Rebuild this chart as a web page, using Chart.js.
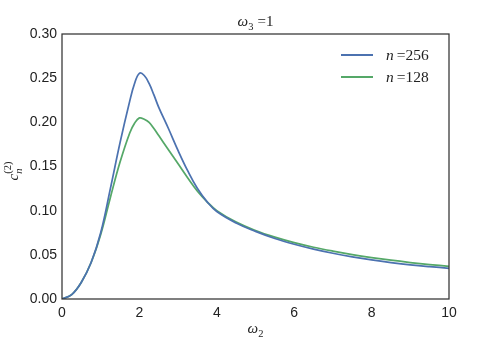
<!DOCTYPE html>
<html lang="en">
<head>
    <meta charset="UTF-8">
    <title>c_n^(2) vs omega_2</title>
    <script src="https://cdn.jsdelivr.net/npm/chart.js@4"></script>
    <style>
        html, body { margin: 0; padding: 0; background: #fff; }
        #wrap { width: 498px; height: 343px; }
    </style>
</head>
<body>
    <div id="wrap"><canvas id="cnChart" width="498" height="343"></canvas></div>

    <script>
        // omega_2 sample points
        const omega2 = [0, 0.25, 0.5, 0.75, 1, 1.25, 1.5, 1.75, 1.875, 2, 2.125, 2.25, 2.375, 2.5, 2.75, 3, 3.25, 3.5, 3.75, 4,
                        4.5, 5, 5.5, 6, 6.5, 7, 7.5, 8, 8.5, 9, 9.5, 10];
        const n256 = [0, 0.005, 0.019, 0.041, 0.075, 0.125, 0.177, 0.224, 0.244, 0.2555, 0.2530, 0.244, 0.231, 0.217, 0.193, 0.168, 0.145, 0.125, 0.110, 0.099,
                      0.0860, 0.0765, 0.0685, 0.0620, 0.0565, 0.0518, 0.0478, 0.0443, 0.0413, 0.0387, 0.0366, 0.0348];
        const n128 = [0, 0.005, 0.019, 0.041, 0.073, 0.115, 0.155, 0.188, 0.199, 0.205, 0.2035, 0.200, 0.193, 0.185, 0.169, 0.153, 0.137, 0.122, 0.110, 0.100,
                      0.0870, 0.0775, 0.0700, 0.0638, 0.0586, 0.0542, 0.0503, 0.0469, 0.0439, 0.0413, 0.0390, 0.0370];
        const xTicks = [0, 2, 4, 6, 8, 10];
        const yTicks = [0, 0.05, 0.10, 0.15, 0.20, 0.25, 0.30];

        const serif = '"Liberation Serif", "DejaVu Serif", serif';

        // draw a run of text pieces (italic / sub / sup) starting at x, baseline y
        function drawPieces(ctx, pieces, x, y, size) {
            pieces.forEach(p => {
                const s = p.small ? size * 0.7 : size;
                ctx.font = (p.italic ? 'italic ' : '') + s + 'px ' + serif;
                ctx.fillText(p.t, x, y + (p.dy || 0));
                x += ctx.measureText(p.t).width + (p.gap || 0);
            });
        }
        function piecesWidth(ctx, pieces, size) {
            let w = 0;
            pieces.forEach(p => {
                const s = p.small ? size * 0.7 : size;
                ctx.font = (p.italic ? 'italic ' : '') + s + 'px ' + serif;
                w += ctx.measureText(p.t).width + (p.gap || 0);
            });
            return w;
        }

        const decorPlugin = {
            id: 'decor',
            afterDraw(chart) {
                const ctx = chart.ctx;
                const a = chart.chartArea;
                ctx.save();
                // frame
                ctx.strokeStyle = '#333';
                ctx.lineWidth = 1.25;
                ctx.strokeRect(a.left, a.top, a.right - a.left, a.bottom - a.top);

                ctx.fillStyle = '#222';
                ctx.textBaseline = 'alphabetic';
                ctx.textAlign = 'left';
                const cx = (a.left + a.right) / 2;

                // title: omega_3 = 1
                const title = [{t: 'ω', italic: true}, {t: '3', small: true, dy: 4, gap: 4}, {t: '=1'}];
                drawPieces(ctx, title, cx - piecesWidth(ctx, title, 15) / 2, 26, 15);

                // x label: omega_2
                const xl = [{t: 'ω', italic: true}, {t: '2', small: true, dy: 4}];
                drawPieces(ctx, xl, cx - piecesWidth(ctx, xl, 15) / 2, 333, 15);

                // y label: c_n^(2)
                ctx.translate(18, (a.top + a.bottom) / 2);
                ctx.rotate(-Math.PI / 2);
                ctx.font = 'italic 15px ' + serif;
                const cw = ctx.measureText('c').width;
                const yl0 = -14;
                drawPieces(ctx, [{t: 'c', italic: true}], yl0, 0, 15);
                drawPieces(ctx, [{t: 'n', italic: true, small: true}], yl0 + cw, 4, 15);
                drawPieces(ctx, [{t: '(2)', small: true}], yl0 + cw, -7, 15);
                ctx.restore();

                // legend inside the plot, top right
                ctx.save();
                ctx.textBaseline = 'middle';
                chart.data.datasets.forEach((ds, i) => {
                    const y = 55 + i * 22;
                    ctx.strokeStyle = ds.borderColor;
                    ctx.lineWidth = 2;
                    ctx.beginPath();
                    ctx.moveTo(341, y);
                    ctx.lineTo(373, y);
                    ctx.stroke();
                    ctx.fillStyle = '#222';
                    const num = ds.label.split('=')[1];
                    drawPieces(ctx, [{t: 'n', italic: true, gap: 3}, {t: '=' + num}], 386, y + 1, 15.5);
                });
                ctx.restore();
            }
        };

        const ctx = document.getElementById('cnChart').getContext('2d');
        new Chart(ctx, {
            type: 'line',
            data: {
                datasets: [
                    {
                        label: 'n=256',
                        data: omega2.map((w, i) => ({x: w, y: n256[i]})),
                        borderColor: '#4c72b0',
                        borderWidth: 1.75,
                        pointRadius: 0,
                        tension: 0.4,
                        fill: false
                    },
                    {
                        label: 'n=128',
                        data: omega2.map((w, i) => ({x: w, y: n128[i]})),
                        borderColor: '#55a868',
                        borderWidth: 1.75,
                        pointRadius: 0,
                        tension: 0.4,
                        fill: false
                    }
                ]
            },
            options: {
                responsive: false,
                animation: false,
                events: [],
                layout: { padding: { top: 34, right: 49, left: 0, bottom: 0 } },
                plugins: {
                    legend: { display: false },
                    tooltip: { enabled: false }
                },
                scales: {
                    x: {
                        type: 'linear',
                        min: 0,
                        max: 10,
                        afterBuildTicks: s => { s.ticks = xTicks.map(v => ({value: v})); },
                        afterFit: s => { s.height = 44; },
                        grid: { display: false, drawTicks: false },
                        border: { display: false },
                        ticks: {
                            padding: 6,
                            color: '#222',
                            font: { family: '"Liberation Sans", Arial, sans-serif', size: 14 },
                            callback: v => String(v)
                        }
                    },
                    y: {
                        min: 0,
                        max: 0.3,
                        afterBuildTicks: s => { s.ticks = yTicks.map(v => ({value: v})); },
                        afterFit: s => { s.width = 62; },
                        grid: { display: false, drawTicks: false },
                        border: { display: false },
                        ticks: {
                            padding: 5,
                            color: '#222',
                            font: { family: '"Liberation Sans", Arial, sans-serif', size: 14 },
                            callback: v => v.toFixed(2)
                        }
                    }
                }
            },
            plugins: [decorPlugin]
        });
    </script>
</body>
</html>
